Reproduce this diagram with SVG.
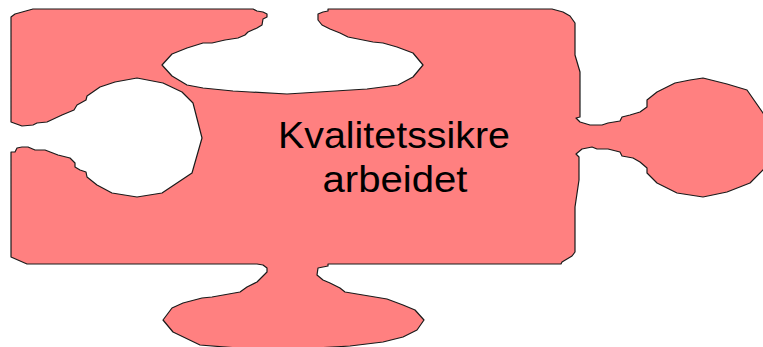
<svg xmlns="http://www.w3.org/2000/svg" width="763" height="347" viewBox="0 0 763 347">
<style>
.piece{fill:#ff8080;stroke:#1a1a1a;stroke-width:1.2;stroke-linejoin:round}
.lbl{font-family:"Liberation Sans",Arial,sans-serif;font-size:37px;fill:#000;text-anchor:middle}
</style>
<g id="puzzle-piece">
<path class="piece" d="M11,17 L15,14 L33,9 L253,9 L257,11 L263,12 L267,14 L267,17 L263,19 L262,25 L257,28 L248,32 L245,35 L238,38 L225,40 L212,43 L203,43 L187,48 L172,54 L162,65 L172,76 L187,85 L203,88 L233,91 L250,92 L287,94 L367,89 L398,85 L413,77 L423,65 L413,53 L397,47 L383,43 L373,42 L348,37 L340,33 L330,29 L322,25 L318,20 L318,14 L323,12 L328,11 L328,9 L552,9 L563,12 L570,16 L575,23 L575,55 L580,72 L580,117 L576,118 L580,122 L590,125 L602,125 L608,123 L620,121 L622,117 L630,115 L640,112 L647,107 L647,100 L657,92 L675,83 L690,80 L703,78 L727,84 L747,90 L763,113 L770,125 L770,160 L763,170 L750,183 L727,192 L703,197 L677,193 L657,183 L647,173 L647,168 L640,162 L633,158 L622,156 L620,152 L608,149 L597,149 L592,147 L582,149 L576,154 L579,157 L579,180 L575,207 L575,252 L572,256 L562,262 L561,264 L328,264 L328,266 L318,268 L317,275 L323,280 L330,283 L340,288 L345,292 L363,295 L387,299 L403,305 L415,310 L424,320 L417,330 L403,337 L383,342 L350,346 L300,349 L250,349 L200,345 L173,332 L163,320 L172,308 L183,303 L202,298 L212,297 L240,292 L247,287 L257,282 L262,277 L267,272 L267,268 L263,265 L257,264 L27,264 L11,257 L11,152 L15,152 L17,148 L22,147 L28,147 L35,150 L45,150 L58,155 L70,158 L75,163 L75,167 L80,170 L86,172 L87,177 L97,185 L112,193 L137,197 L162,193 L192,173 L202,138 L193,103 L182,92 L163,83 L137,78 L115,82 L100,87 L87,96 L86,100 L77,105 L74,110 L62,115 L47,122 L37,123 L33,125 L22,126 L11,122 Z"/>
<text class="lbl" x="394" y="148" textLength="232" lengthAdjust="spacingAndGlyphs">Kvalitetssikre</text>
<text class="lbl" x="395" y="192" textLength="145" lengthAdjust="spacingAndGlyphs">arbeidet</text>
</g>
</svg>
